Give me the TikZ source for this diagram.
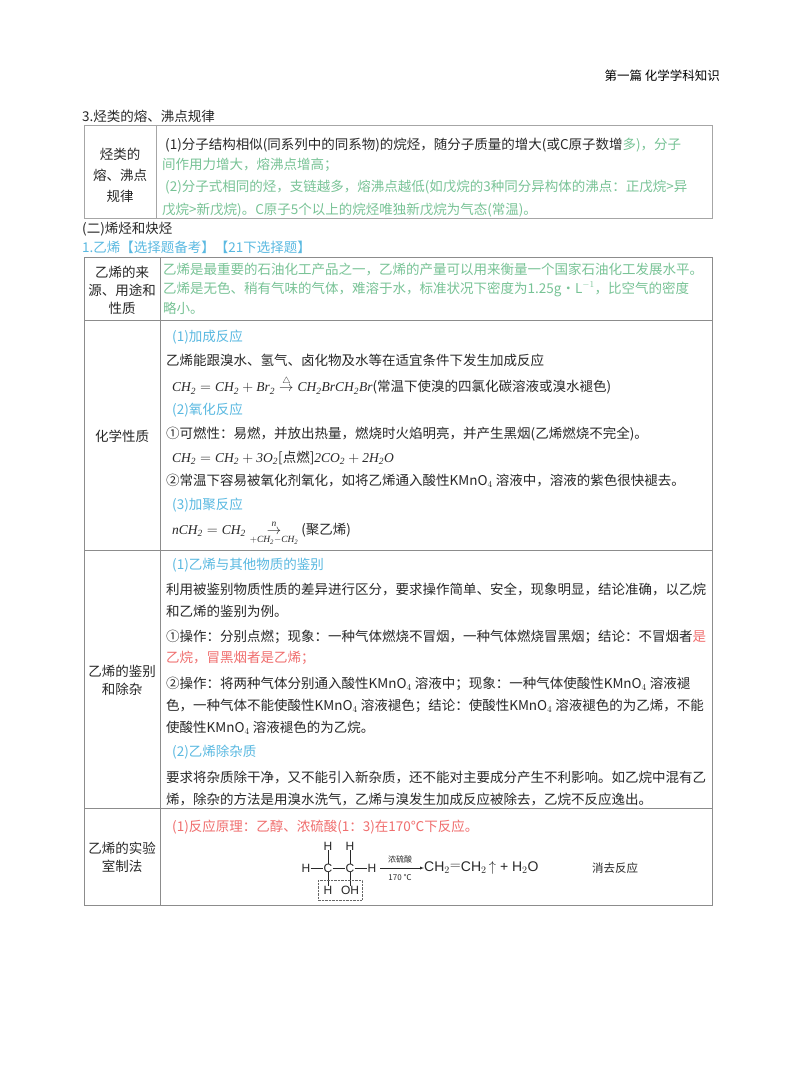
\documentclass[tikz,border=0pt]{standalone}
\usepackage{amsmath}
\usepackage{fontspec}
\setmainfont{Liberation Serif}
\newfontfamily\cjk{Noto Sans CJK SC}
\newfontfamily\sanf{Liberation Sans}
\definecolor{gr}{RGB}{120,195,150}
\definecolor{bl}{RGB}{90,185,225}
\definecolor{rd}{RGB}{240,110,110}
\definecolor{tx}{RGB}{40,40,40}
\begin{document}
\begin{tikzpicture}[x=1pt,y=-1pt,
  t/.style={anchor=west,inner sep=0,font=\cjk\fontsize{13.5}{15}\selectfont,text=tx},
  c/.style={anchor=center,inner sep=0,font=\cjk\fontsize{13.5}{15}\selectfont,text=tx,align=center},
  ln/.style={draw=black!45,line width=0.8pt}]
\useasboundingbox (0,0) rectangle (800,1078);
\fill[white] (0,0) rectangle (800,1078);
\node[anchor=east,inner sep=0,font=\cjk\fontsize{12.5}{14}\selectfont] (hd) at (720,76) {第一篇 化学学科知识};
\node[t] (s3) at (82,116) {3.烃类的熔、沸点规律};
% table 1
\draw[draw=black!35,line width=0.8pt] (84,125) rectangle (712,218) (156,125) -- (156,218);
\node[c] (l1) at (120,175) {烃类的\\[6pt]熔、沸点\\[6pt]规律};
\node[t] (a1) at (165,145) {(1)分子结构相似(同系列中的同系物)的烷烃，随分子质量的增大(或C原子数增\textcolor{gr}{多)，分子}};
\node[t,text=gr] (a2) at (162,165) {间作用力增大，熔沸点增高；};
\node[t,text=gr] (a3) at (165,187) {(2)分子式相同的烃，支链越多，熔沸点越低(如戊烷的3种同分异构体的沸点：正戊烷>异};
\node[t,text=gr] (a4) at (162,210) {戊烷>新戊烷)。C原子5个以上的烷烃唯独新戊烷为气态(常温)。};
\node[t] (s2) at (82,229) {(二)烯烃和炔烃};
\node[t,text=bl] (s1) at (82,247) {1.乙烯【选择题备考】【21下选择题】};
% table 2
\draw[ln] (84,257) rectangle (712,905);
\draw[ln] (160,257) -- (160,905);
\foreach \y in {320,550,808} \draw[ln] (84,\y) -- (712,\y);
\node[c] (r1) at (122,290) {乙烯的来\\[3pt]源、用途和\\[3pt]性质};
\node[t,text=gr] (b1) at (163,270) {乙烯是最重要的石油化工产品之一，乙烯的产量可以用来衡量一个国家石油化工发展水平。};
\node[t,text=gr] (b2) at (163,289) {乙烯是无色、稍有气味的气体，难溶于水，标准状况下密度为1.25g·L$^{-1}$，比空气的密度};
\node[t,text=gr] (b3) at (163,308) {略小。};
\node[c] (r2) at (122,436) {化学性质};
\node[t,text=bl] (c1) at (172,337) {(1)加成反应};
\node[t] (c2) at (166,360) {乙烯能跟溴水、氢气、卤化物及水等在适宜条件下发生加成反应};
\node[t] (c3) at (172,385) {$\mathit{CH_2=CH_2+Br_2\overset{\triangle}{\rightarrow}CH_2BrCH_2Br}$(常温下使溴的四氯化碳溶液或溴水褪色)};
\node[t,text=bl] (c4) at (172,410) {(2)氧化反应};
\node[t] (c5) at (166,434) {①可燃性：易燃，并放出热量，燃烧时火焰明亮，并产生黑烟(乙烯燃烧不完全)。};
\node[t] (c6) at (172,458) {$\mathit{CH_2=CH_2+3O_2}$[\textit{点燃}]$\mathit{2CO_2+2H_2O}$};
\node[t] (c7) at (166,481) {②常温下容易被氧化剂氧化，如将乙烯通入酸性KMnO$_4$ 溶液中，溶液的紫色很快褪去。};
\node[t,text=bl] (c8) at (172,505) {(3)加聚反应};
\node[t] (c9) at (172,533) {$\mathit{nCH_2=CH_2\underset{+CH_2-CH_2}{\overset{n}{\rightarrow}}}$ (聚乙烯)};
\node[c] (r3) at (122,680) {乙烯的鉴别\\[3pt]和除杂};
\node[t,text=bl] (d1) at (172,565) {(1)乙烯与其他物质的鉴别};
\node[t] (d2) at (166,589) {利用被鉴别物质性质的差异进行区分，要求操作简单、安全，现象明显，结论准确，以乙烷};
\node[t] (d3) at (166,611) {和乙烯的鉴别为例。};
\node[t] (d4) at (166,637) {①操作：分别点燃；现象：一种气体燃烧不冒烟，一种气体燃烧冒黑烟；结论：不冒烟者\textcolor{rd}{是}};
\node[t,text=rd] (d5) at (166,658) {乙烷，冒黑烟者是乙烯；};
\node[t] (d6) at (166,684) {②操作：将两种气体分别通入酸性KMnO$_4$ 溶液中；现象：一种气体使酸性KMnO$_4$ 溶液褪};
\node[t] (d7) at (166,706) {色，一种气体不能使酸性KMnO$_4$ 溶液褪色；结论：使酸性KMnO$_4$ 溶液褪色的为乙烯，不能};
\node[t] (d8) at (166,728) {使酸性KMnO$_4$ 溶液褪色的为乙烷。};
\node[t,text=bl] (d9) at (172,752) {(2)乙烯除杂质};
\node[t] (d10) at (166,777) {要求将杂质除干净，又不能引入新杂质，还不能对主要成分产生不利影响。如乙烷中混有乙};
\node[t] (d11) at (166,799) {烯，除杂的方法是用溴水洗气，乙烯与溴发生加成反应被除去，乙烷不反应逸出。};
\node[c] (r4) at (122,857) {乙烯的实验\\[3pt]室制法};
\node[t,text=rd] (e1) at (172,827) {(1)反应原理：乙醇、浓硫酸(1：3)在170℃下反应。};
% structure
\begin{scope}[every node/.style={inner sep=0,font=\sanf\fontsize{12}{13}\selectfont,text=tx}]
\node (h0) at (306,868) {H};
\node (ca) at (328,868) {C};
\node (cb) at (350,868) {C};
\node (h3) at (372,868) {H};
\node (h1) at (328,846) {H};
\node (h2) at (350,846) {H};
\node (h4) at (328,890) {H};
\node (oh) at (350,890) {OH};
\draw[tx,thick] (h0) -- (ca) -- (cb) -- (h3) (h1) -- (ca) -- (h4) (h2) -- (cb) -- (oh);
\draw[densely dotted,black!60] (318,880) rectangle (362,900);
\coordinate (ar1) at (380,868);
\node[anchor=west,font=\sanf\fontsize{14}{15}\selectfont] (pr) at (424,868) {CH$_2$\raisebox{0.35ex}{$=$}CH$_2$\,$\uparrow$ + H$_2$O};
\draw[-latex,tx] (ar1) -- (pr.west);
\node[font=\cjk\fontsize{8}{9}\selectfont] (cat) at (400,859) {浓硫酸};
\node[font=\cjk\fontsize{8}{9}\selectfont] (tmp) at (400,877) {170 ℃};
\node[anchor=west,font=\cjk\fontsize{11.5}{12}\selectfont] (xq) at (592,868) {消去反应};
\end{scope}
\end{tikzpicture}
\end{document}
